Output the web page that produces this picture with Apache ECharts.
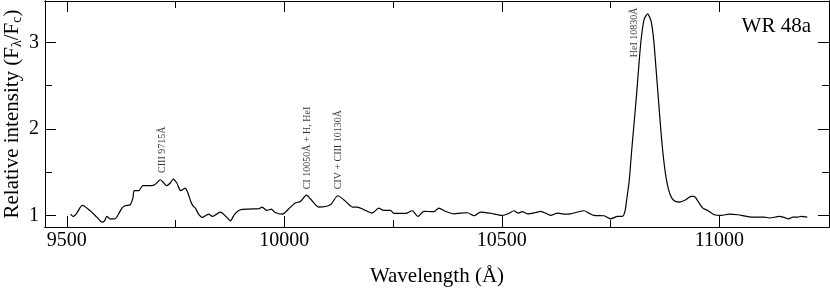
<!DOCTYPE html>
<html>
<head>
<meta charset="utf-8">
<script src="https://cdn.jsdelivr.net/npm/echarts@6/dist/echarts.min.js"></script>
<style>html,body{margin:0;padding:0;background:#fff}#c{width:830px;height:289px}</style>
</head>
<body>
<div id="c"></div>
<script>
const wavelength = [9509,9515,9523,9536,9554,9569,9581,9587,9592,9600,
9611,9619,9627,9634,9646,9652,9655,9665,9675,9686,
9699,9707,9715,9721,9730,9738,9745,9753,9762,9772,
9778,9785,9791,9795,9803,9812,9826,9835,9853,9866,
9876,9886,9899,9918,9941,9949,9960,9970,9979,9996,
10010,10025,10037,10051,10061,10079,10106,10123,10138,10157,
10168,10183,10202,10217,10229,10244,10252,10279,10294,10307,
10321,10344,10355,10371,10391,10405,10421,10436,10451,10474,
10501,10516,10528,10538,10547,10559,10578,10589,10605,10612,
10628,10643,10658,10670,10689,10700,10712,10735,10750,10766,
10777,10783,10787,10793,10798,10804,10810,10816,10821,10827,
10835,10843,10849,10854,10860,10866,10872,10879,10887,10896,
10908,10923,10935,10942,10951,10962,10973,10988,11004,11023,
11042,11073,11103,11115,11138,11149,11159,11169,11180,11188,11202];

const intensity = [1.014,0.986,1.025,1.114,1.052,0.979,0.921,0.936,0.986,0.959,
0.959,1.014,1.083,1.110,1.122,1.199,1.284,1.284,1.342,1.342,
1.345,1.373,1.411,1.385,1.342,1.373,1.419,1.373,1.284,1.315,
1.264,1.160,1.102,1.087,1.014,0.975,1.012,0.986,1.037,0.986,
0.936,1.014,1.064,1.072,1.075,1.095,1.056,1.072,1.032,1.014,
1.072,1.141,1.160,1.232,1.185,1.095,1.122,1.226,1.174,1.095,
1.095,1.064,1.025,1.083,1.056,1.056,1.021,1.021,1.052,0.986,
1.046,1.041,1.083,1.044,1.017,1.025,1.029,0.994,1.037,1.023,
0.998,1.020,1.052,1.025,1.041,1.017,1.032,1.044,1.014,0.998,
1.025,1.014,1.017,1.032,1.052,1.025,0.998,0.994,0.959,0.986,
0.986,1.044,1.180,1.411,1.721,2.068,2.416,2.802,3.072,3.265,
3.331,3.246,3.033,2.724,2.338,1.952,1.643,1.392,1.238,1.168,
1.153,1.180,1.218,1.218,1.160,1.083,1.056,1.006,0.998,1.014,
1.006,0.979,0.979,0.968,0.986,0.975,0.959,0.979,0.979,0.986,0.979];

const xMajorTicks = [9500, 10000, 10500, 11000];
const xMinorTicks = [9750, 10250, 10750];
const yMajorTicks = [1, 2, 3];
const yMinorTicks = [1.5, 2.5];

const lineLabels = ['CIII 9715Å', 'CI 10050Å + H, HeI', 'CIV + CIII 10130Å', 'HeI 10830Å'];
const lineLabelX = [9719, 10052, 10125, 10804];
const lineLabelY = [1.49, 1.30, 1.30, 2.83];

const FONT = "'Liberation Serif', 'DejaVu Serif', serif";
const X_MIN = 9450, X_MAX = 11252, Y_MIN = 0.864, Y_MAX = 3.48;
const GRID = { left: 45, right: 1, top: 1, bottom: 62, containLabel: false, outerBoundsMode: 'none' };

function xAx(grid, pos, ticks, len, showLabel) {
  return {
    type: 'value', gridIndex: grid, position: pos, min: X_MIN, max: X_MAX,
    axisLine: { show: true, onZero: false, lineStyle: { color: '#000', width: 1 } },
    axisTick: { show: true, inside: true, length: len, customValues: ticks, lineStyle: { color: '#000', width: 1 } },
    axisLabel: { show: showLabel, customValues: ticks, margin: 4, color: '#000',
      fontFamily: FONT, fontSize: 20, formatter: v => String(v) },
    splitLine: { show: false }
  };
}
function yAx(grid, pos, ticks, len, showLabel) {
  return {
    type: 'value', gridIndex: grid, position: pos, min: Y_MIN, max: Y_MAX,
    axisLine: { show: true, onZero: false, lineStyle: { color: '#000', width: 1 } },
    axisTick: { show: true, inside: true, length: len, customValues: ticks, lineStyle: { color: '#000', width: 1 } },
    axisLabel: { show: showLabel, customValues: ticks, margin: 6, color: '#000',
      fontFamily: FONT, fontSize: 20, formatter: v => String(v) },
    splitLine: { show: false }
  };
}

const xAxes = [
  Object.assign(xAx(0, 'bottom', xMajorTicks, 11, true), {
    name: 'Wavelength (Å)', nameLocation: 'middle', nameGap: 39, nameMoveOverlap: false,
    nameTextStyle: { color: '#000', fontFamily: FONT, fontSize: 21 }
  }),
  xAx(0, 'top', xMajorTicks, 11, false),
  xAx(1, 'bottom', xMinorTicks, 7, false),
  xAx(1, 'top', xMinorTicks, 7, false)
];
const yAxes = [
  Object.assign(yAx(0, 'left', yMajorTicks, 11, true), {
    name: 'Relative intensity (F{s|λ}/F{s|c})', nameLocation: 'middle', nameGap: 21, nameMoveOverlap: false,
    nameTextStyle: { color: '#000', fontFamily: FONT, fontSize: 21,
      rich: { s: { fontFamily: FONT, fontSize: 14, verticalAlign: 'bottom', padding: [9, 0, 0, 0], color: '#000' } } }
  }),
  yAx(0, 'right', yMajorTicks, 11, false),
  yAx(1, 'left', yMinorTicks, 7, false),
  yAx(1, 'right', yMinorTicks, 7, false)
];

const chart = echarts.init(document.getElementById('c'), null, { renderer: 'canvas' });
chart.setOption({
  animation: false,
  backgroundColor: '#fff',
  title: {
    text: 'WR 48a', right: 19, top: 16, padding: 0,
    textStyle: { color: '#000', fontFamily: FONT, fontSize: 21, fontWeight: 'normal' }
  },
  grid: [Object.assign({}, GRID), Object.assign({}, GRID)],
  xAxis: xAxes,
  yAxis: yAxes,
  series: [
    {
      type: 'line', xAxisIndex: 0, yAxisIndex: 0,
      data: wavelength.map((w, i) => [w, intensity[i]]),
      showSymbol: false, smooth: 0.25,
      lineStyle: { color: '#000', width: 1.2 }
    },
    {
      type: 'scatter', xAxisIndex: 0, yAxisIndex: 0,
      data: lineLabelX.map((w, i) => [w, lineLabelY[i]]),
      symbolSize: 1, itemStyle: { color: 'rgba(0,0,0,0)' },
      label: {
        show: true, position: 'inside', rotate: 90, align: 'left', verticalAlign: 'middle',
        formatter: p => lineLabels[p.dataIndex],
        color: '#000', fontFamily: FONT, fontSize: 10
      }
    },
    {
      type: 'line', xAxisIndex: 2, yAxisIndex: 2, data: [], showSymbol: false
    }
  ]
});
</script>
</body>
</html>
